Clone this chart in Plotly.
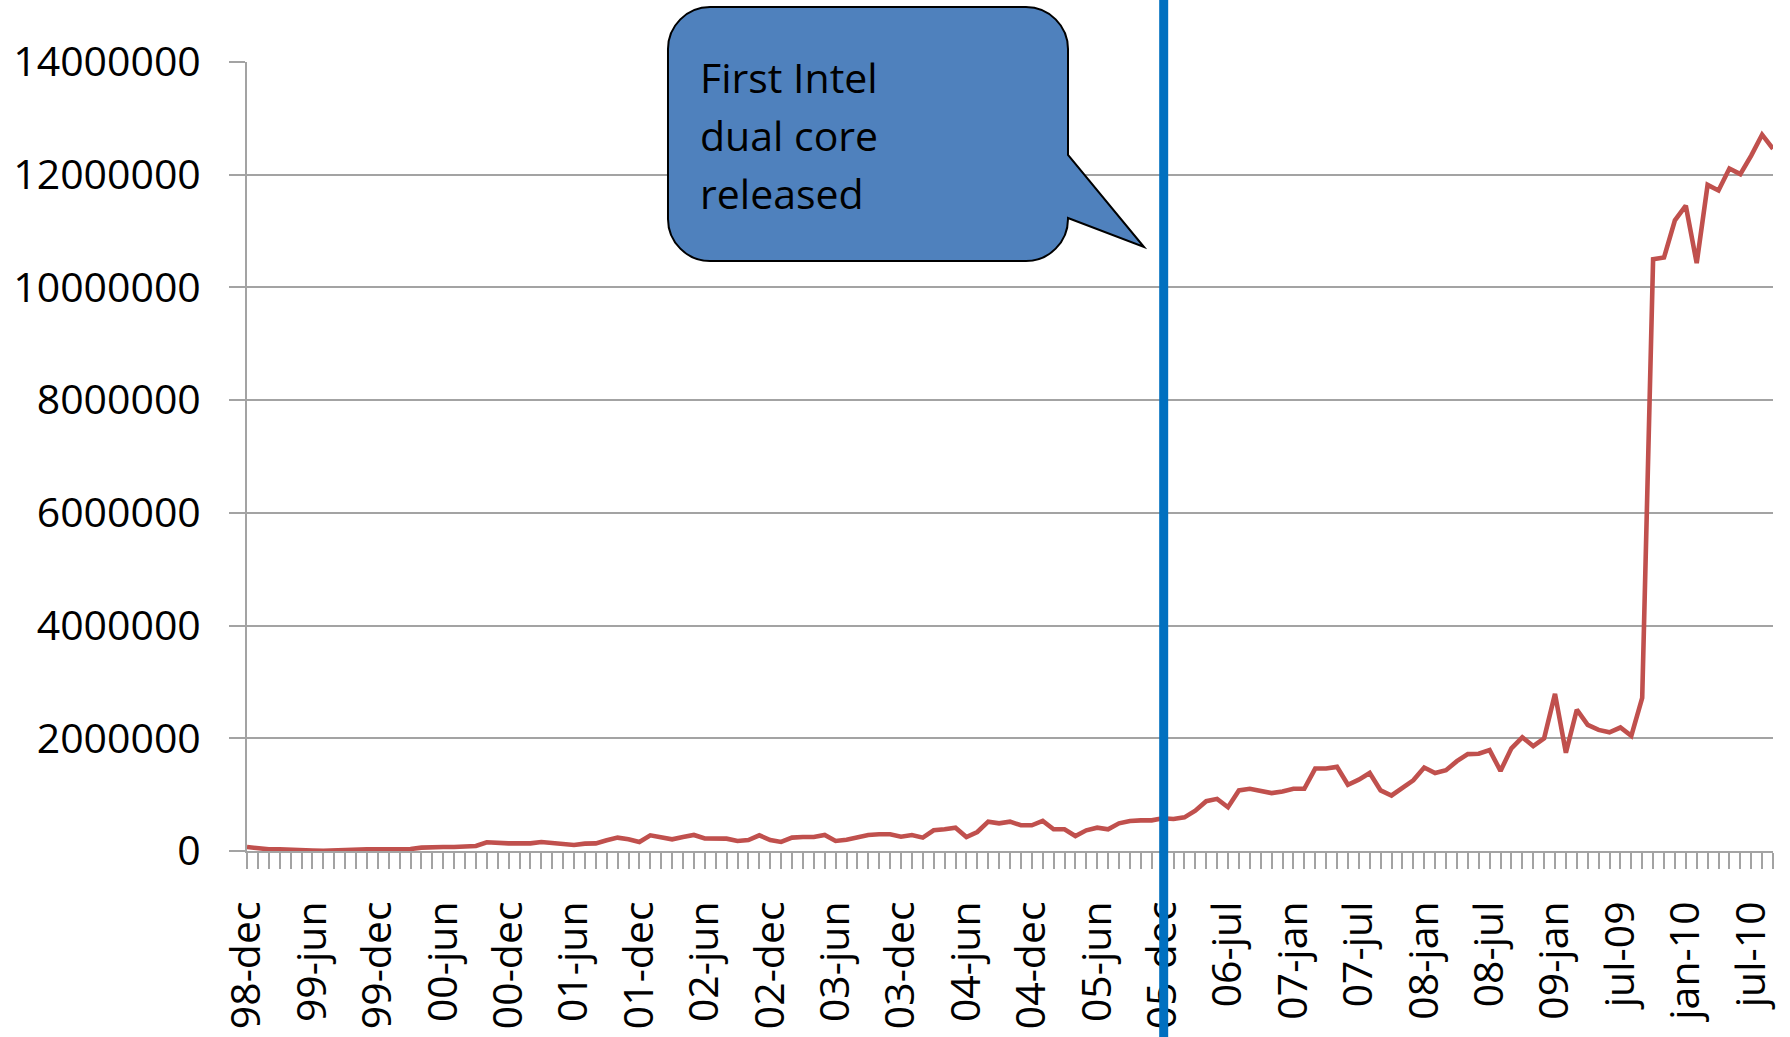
import plotly.graph_objects as go

# ---------------- data ----------------
tick_labels = ["98-dec", "99-jun", "99-dec", "00-jun", "00-dec", "01-jun", "01-dec",
               "02-jun", "02-dec", "03-jun", "03-dec", "04-jun", "04-dec", "05-jun",
               "05-dec", "06-jul", "07-jan", "07-jul", "08-jan", "08-jul", "09-jan",
               "jul-09", "jan-10", "jul-10"]
label_step = 6

values = [
    71000, 41000, 30000, 30000, 30000, 30000, 10000, 5000, 15000, 30000,
    30000, 30000, 30000, 30000, 30000, 35000, 59000, 71000, 71000, 71000,
    71000, 89000, 154000, 136000, 136000, 136000, 136000, 160000, 148000, 136000,
    107000, 130000, 136000, 190000, 237000, 207000, 160000, 278000, 249000, 207000,
    249000, 284000, 222000, 213000, 219000, 178000, 195000, 278000, 195000, 160000,
    237000, 249000, 249000, 284000, 178000, 201000, 237000, 284000, 296000, 296000,
    254000, 284000, 237000, 367000, 385000, 414000, 249000, 337000, 521000, 491000,
    521000, 456000, 456000, 533000, 385000, 385000, 266000, 367000, 414000, 385000,
    491000, 533000, 544000, 544000, 580000, 567000, 597000, 716000, 884000, 925000,
    776000, 1075000, 1104000, 1063000, 1027000, 1057000, 1104000, 1104000, 1463000, 1463000,
    1493000, 1176000, 1266000, 1385000, 1075000, 985000, 1122000, 1254000, 1481000, 1385000,
    1433000, 1594000, 1719000, 1725000, 1791000, 1421000, 1821000, 2018000, 1863000, 2000000,
    2788000, 1743000, 2507000, 2239000, 2149000, 2107000, 2191000, 2042000, 2716000, 10500000,
    10530000, 11190000, 11450000, 10430000, 11820000, 11720000, 12110000, 12010000, 12340000, 12710000,
    12460000,
]

callout_lines = ["First Intel", "dual core", "released"]
event_index = 84.1   # position of the "first dual core" marker line (05-dec)

# ---------------- layout geometry ----------------
W, H = 1790, 1037
ML, MR, MT, MB = 247, 17, 62, 186
PW, PH = W - ML - MR, H - MT - MB

def px(x):
    return (x - ML) / PW

def py(y):
    return (H - MB - y) / PH

FONT = "Open Sans"
GRID = "#A3A3A3"

n = len(values)
xs = list(range(n))
tickvals = xs
ticktext = [tick_labels[i // label_step] if i % label_step == 0 and i // label_step < len(tick_labels) else ""
            for i in xs]

fig = go.Figure()
fig.add_trace(go.Scatter(
    x=xs, y=values, mode="lines",
    line=dict(color="#C0504D", width=4.6),
    hoverinfo="skip", showlegend=False,
))

# callout (rounded speech bubble)
x0, x1, y0, y1, r = 668, 1068, 7, 261, 42
tipx, tipy = 1144, 247
pt, pb = 155, 218
k = 0.45
pts = [
    ("M", [(x0 + r, y0)]),
    ("L", [(x1 - r, y0)]),
    ("C", [(x1 - r * k, y0), (x1, y0 + r * k), (x1, y0 + r)]),
    ("L", [(x1, pt)]),
    ("L", [(tipx, tipy)]),
    ("L", [(x1, pb)]),
    ("L", [(x1, y1 - r)]),
    ("C", [(x1, y1 - r * k), (x1 - r * k, y1), (x1 - r, y1)]),
    ("L", [(x0 + r, y1)]),
    ("C", [(x0 + r * k, y1), (x0, y1 - r * k), (x0, y1 - r)]),
    ("L", [(x0, y0 + r)]),
    ("C", [(x0, y0 + r * k), (x0 + r * k, y0), (x0 + r, y0)]),
]
path = ""
for cmd, cs in pts:
    path += cmd + " ".join(f"{px(a):.5f},{py(b):.5f}" for a, b in cs) + " "
path += "Z"

fig.add_shape(type="path", path=path, xref="paper", yref="paper",
              fillcolor="#4F81BD", line=dict(color="#000000", width=2), layer="above")

# vertical event line
ex = event_index / (n - 1)
fig.add_shape(type="line", xref="paper", yref="paper",
              x0=ex, x1=ex, y0=py(H), y1=py(0),
              line=dict(color="#0070C0", width=9), layer="above")

line_y = [77, 135, 193]
for txt, ly in zip(callout_lines, line_y):
    fig.add_annotation(text=txt, xref="paper", yref="paper",
                       x=px(698), y=py(ly), xanchor="left", yanchor="middle",
                       align="left", showarrow=False,
                       font=dict(family=FONT, size=41, color="#000000"))

fig.update_layout(
    width=W, height=H,
    margin=dict(l=ML, r=MR, t=MT, b=MB, pad=0),
    paper_bgcolor="white", plot_bgcolor="white",
    template="none",
    font=dict(family=FONT, size=41, color="#000000"),
    showlegend=False,
)
fig.update_xaxes(
    range=[0, n - 1], tickmode="array", tickvals=tickvals, ticktext=ticktext,
    tickangle=-90, ticks="outside", ticklen=16, tickwidth=2, tickcolor=GRID,
    showline=True, linecolor=GRID, linewidth=2, showgrid=False, zeroline=False,
    automargin=False, ticklabelstandoff=16,
    tickfont=dict(family=FONT, size=41, color="#000000"),
)
fig.update_yaxes(
    range=[0, 14000000], dtick=2000000, tick0=0, tickformat="d",
    ticks="outside", ticklen=16, tickwidth=2, tickcolor=GRID,
    showline=True, linecolor=GRID, linewidth=2,
    showgrid=True, gridcolor=GRID, gridwidth=2, zeroline=False,
    automargin=False, ticklabelstandoff=20,
    tickfont=dict(family=FONT, size=41, color="#000000"),
)

fig.write_html("out.html")
